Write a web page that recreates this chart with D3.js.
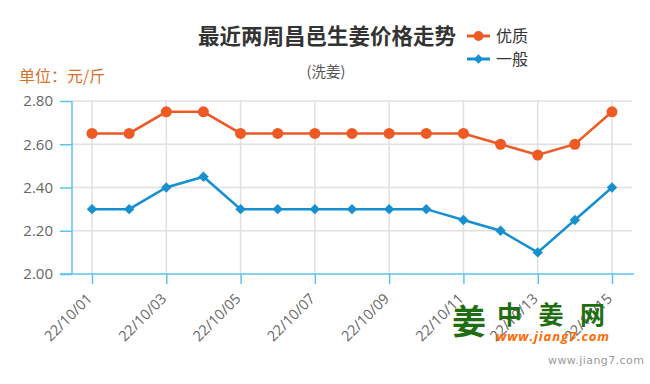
<!DOCTYPE html>
<html>
<head>
<meta charset="utf-8">
<script src="https://cdn.jsdelivr.net/npm/d3@7"></script>
<style>
  body { margin: 0; background: #fff; }
  svg { display: block; }
</style>
</head>
<body>
<div class="chart"></div>
<script>
// data
var dates = ['22/10/01', '22/10/02', '22/10/03', '22/10/04', '22/10/05', '22/10/06', '22/10/07', '22/10/08',
  '22/10/09', '22/10/10', '22/10/11', '22/10/12', '22/10/13', '22/10/14', '22/10/15'];
var youzhi = [2.65, 2.65, 2.75, 2.75, 2.65, 2.65, 2.65, 2.65, 2.65, 2.65, 2.65, 2.60, 2.55, 2.60, 2.75];
var yiban = [2.30, 2.30, 2.40, 2.45, 2.30, 2.30, 2.30, 2.30, 2.30, 2.30, 2.25, 2.20, 2.10, 2.25, 2.40];
var yTicks = [2.00, 2.20, 2.40, 2.60, 2.80];
var seriesNames = ['优质', '一般'];

var width = 650, height = 384;
var orange = '#ee5a24', blue = '#1790cf', axisBlue = '#5cc3ec';
var cjk = '"Noto Sans CJK SC", "Open Sans", sans-serif';
var num = '"Open Sans", "DejaVu Sans", sans-serif';

var svg = d3.select('.chart').append('svg')
  .attr('width', width).attr('height', height);

var x = d3.scalePoint().domain(dates).range([92, 612]);
var y = d3.scaleLinear().domain([2.0, 2.8]).range([274, 101]);

// grid
var everyOther = dates.filter(function(d, i) { return i % 2 === 0; });
svg.append('g').selectAll('line').data(yTicks.slice(1)).enter().append('line')
  .attr('x1', 72).attr('x2', 632)
  .attr('y1', function(d) { return y(d); }).attr('y2', function(d) { return y(d); })
  .attr('stroke', '#e0e0e0').attr('stroke-width', 1.5);
svg.append('g').selectAll('line').data(everyOther).enter().append('line')
  .attr('x1', function(d) { return x(d); }).attr('x2', function(d) { return x(d); })
  .attr('y1', y(2.8)).attr('y2', y(2.0))
  .attr('stroke', '#e0e0e0').attr('stroke-width', 1.5);

// y axis
var yAxis = svg.append('g').attr('transform', 'translate(72,0)')
  .call(d3.axisLeft(y).tickValues(yTicks).tickFormat(d3.format('.2f')).tickSize(12).tickPadding(7));
yAxis.select('.domain').attr('d', 'M0,' + y(2.8) + 'V' + y(2.0));
yAxis.selectAll('line, .domain').attr('stroke', axisBlue).attr('stroke-width', 1.5);
yAxis.selectAll('text').attr('fill', '#666').style('font-size', '15px').style('font-family', num);

// x axis
var xAxis = svg.append('g').attr('transform', 'translate(0,274)')
  .call(d3.axisBottom(x).tickValues(everyOther).tickSize(10).tickSizeOuter(0));
xAxis.select('.domain').attr('d', 'M60,0H634');
xAxis.selectAll('line, .domain').attr('stroke', axisBlue).attr('stroke-width', 1.5);
xAxis.selectAll('text')
  .attr('fill', '#666').style('font-size', '14.5px').style('font-family', num)
  .attr('text-anchor', 'end').attr('dy', '0.35em')
  .attr('transform', 'translate(-3,22) rotate(-45)')
  .attr('y', 0).attr('x', 0);

// lines
var line = d3.line().x(function(d) { return x(d.date); }).y(function(d) { return y(d.v); });
var s1 = dates.map(function(d, i) { return {date: d, v: youzhi[i]}; });
var s2 = dates.map(function(d, i) { return {date: d, v: yiban[i]}; });

svg.append('path').datum(s1).attr('d', line)
  .attr('fill', 'none').attr('stroke', orange).attr('stroke-width', 2.5);
svg.append('g').selectAll('circle').data(s1).enter().append('circle')
  .attr('cx', function(d) { return x(d.date); }).attr('cy', function(d) { return y(d.v); })
  .attr('r', 5.5).attr('fill', orange);

var diamond = d3.symbol().type(d3.symbolDiamond2).size(70);
svg.append('path').datum(s2).attr('d', line)
  .attr('fill', 'none').attr('stroke', blue).attr('stroke-width', 2.5);
svg.append('g').selectAll('path').data(s2).enter().append('path')
  .attr('d', diamond)
  .attr('transform', function(d) { return 'translate(' + x(d.date) + ',' + y(d.v) + ')'; })
  .attr('fill', blue);

// titles
svg.append('text').attr('x', 327).attr('y', 44).attr('text-anchor', 'middle')
  .style('font-family', cjk).style('font-size', '21.5px').style('font-weight', 'bold')
  .attr('fill', '#333').text('最近两周昌邑生姜价格走势');
svg.append('text').attr('x', 326).attr('y', 77).attr('text-anchor', 'middle')
  .style('font-family', cjk).style('font-size', '14.5px')
  .attr('fill', '#555').text('(洗姜)');
svg.append('text').attr('x', 19).attr('y', 82)
  .style('font-family', cjk).style('font-size', '16px')
  .attr('fill', '#d9702a').text('单位：元/斤');

// legend
var legend = svg.append('g').selectAll('g').data(seriesNames).enter().append('g')
  .attr('transform', function(d, i) { return 'translate(467,' + (36 + i * 23) + ')'; });
legend.append('line').attr('x1', 0).attr('x2', 23).attr('y1', 0).attr('y2', 0)
  .attr('stroke', function(d, i) { return i ? blue : orange; }).attr('stroke-width', 3);
legend.append('path')
  .attr('d', function(d, i) { return i ? d3.symbol().type(d3.symbolDiamond2).size(55)() : d3.symbol().type(d3.symbolCircle).size(75)(); })
  .attr('transform', 'translate(11.5,0)')
  .attr('fill', function(d, i) { return i ? blue : orange; });
legend.append('text').attr('x', 29).attr('y', 6)
  .style('font-family', cjk).style('font-size', '16px')
  .attr('fill', '#333').text(function(d) { return d; });

// watermark
svg.append('text').attr('x', 452).attr('y', 334)
  .style('font-family', cjk).style('font-size', '34px').style('font-weight', 'bold')
  .attr('fill', '#1f6e12').text('姜');
svg.append('text').attr('x', 497).attr('y', 324)
  .style('font-family', cjk).style('font-size', '25px').style('font-weight', 'bold')
  .attr('fill', '#1f6e12').attr('textLength', 108).text('中姜网');
svg.append('text').attr('x', 496).attr('y', 341)
  .style('font-family', num).style('font-size', '13px').style('font-weight', 'bold').style('font-style', 'italic')
  .attr('fill', '#ff6a00').attr('textLength', 113).text('www.jiang7.com');
svg.append('text').attr('x', 548).attr('y', 364)
  .style('font-family', '"DejaVu Sans", sans-serif').style('font-size', '11px')
  .attr('fill', '#999').attr('textLength', 96).text('www.jiang7.com');
</script>
</body>
</html>
